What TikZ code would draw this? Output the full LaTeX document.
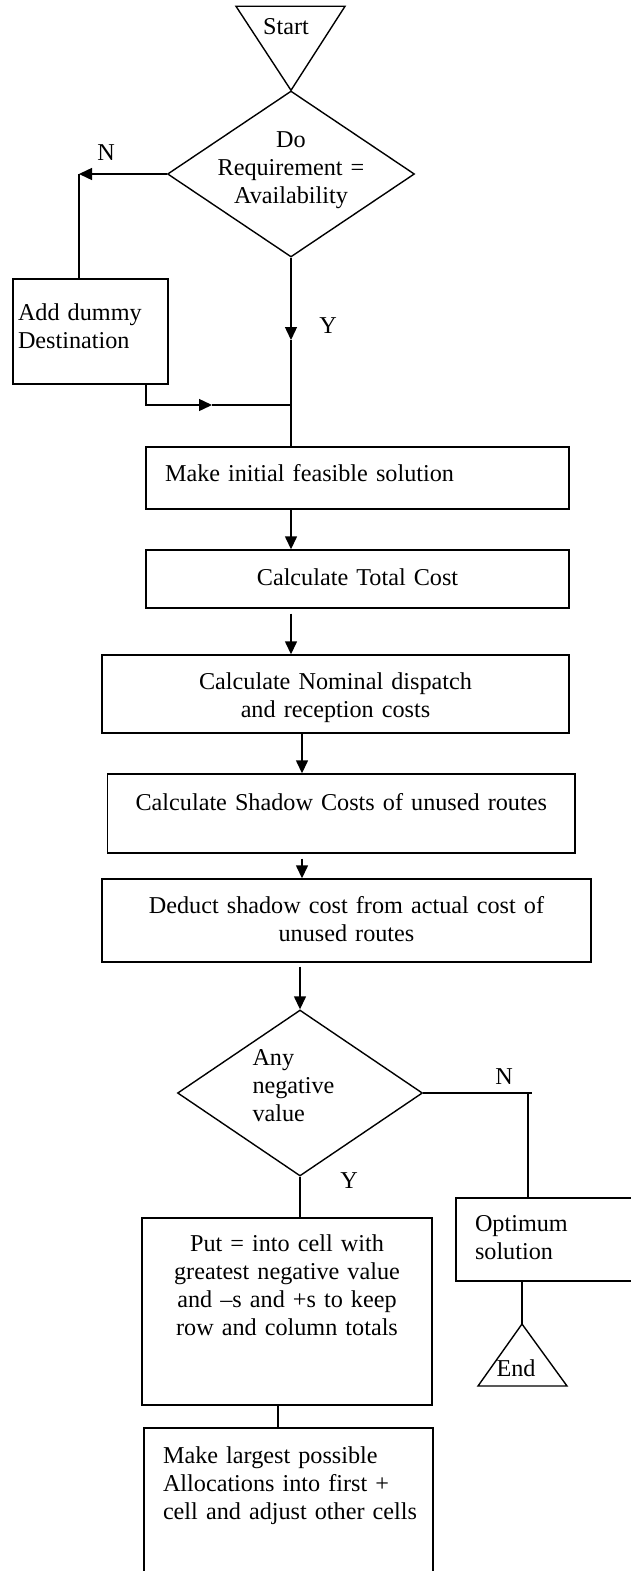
\documentclass[tikz,border=0pt]{standalone}
\usepackage{fontspec}
\setmainfont{Liberation Serif}
\usetikzlibrary{arrows.meta,shapes.geometric}

\begin{document}
\begin{tikzpicture}[x=1pt, y=-1pt, line width=1.4pt,
        font=\fontsize{24.2}{28}\selectfont,
        proc/.style={draw, rectangle, inner ysep=0pt},
        decide/.style={draw, diamond, inner sep=0pt, aspect=1.49, text height=0pt},
        arr/.style={-{Triangle[length=13pt, width=12pt]}},
        lbl/.style={anchor=base, inner sep=0pt}]
    \useasboundingbox (0, 0) rectangle (631, 1571);
    \clip (0, 0) rectangle (631, 1571);

    % Start and first test
    \node[decide, minimum width=247pt, minimum height=166pt, text width=150pt,
        align=center, text depth=54pt] (Decide) at (291, 174)
        {Do\\Requirement =\\Availability};
    \node[lbl] (Start) at (286, 35) {Start};
    \draw (Decide.north) -- ++(-55, -84) -- ++(109, 0) -- cycle;
    \node[proc, inner xsep=5pt, text width=145pt, align=left,
        text height=41pt, text depth=64pt] (AddDummy) at (90.5, 331.5)
        {Add dummy\\Destination};

    % Main column
    \node[proc, inner xsep=19pt, text width=385pt, align=left,
        text height=34pt, text depth=28pt] (MakeInit) at (357.5, 478)
        {Make initial feasible solution};
    \node[proc, inner xsep=5pt, text width=413pt, align=center,
        text height=35pt, text depth=23pt] (TotalCost) at (357.5, 579)
        {Calculate Total Cost};
    \node[proc, inner xsep=5pt, text width=457pt, align=center,
        text height=34pt, text depth=44pt] (Nominal) at (335.5, 694)
        {Calculate Nominal dispatch\\and reception costs};
    \node[proc, inner xsep=5pt, text width=457.5pt, align=center,
        text height=36pt, text depth=43pt] (Shadow) at (341.25, 813.5)
        {Calculate Shadow Costs of unused routes};
    \node[proc, inner xsep=5pt, text width=479pt, align=center,
        text height=34pt, text depth=49pt] (Deduct) at (346.5, 920.5)
        {Deduct shadow cost from actual cost of\\unused routes};
    \node[decide, minimum width=245pt, minimum height=166pt, text width=95pt,
        align=left, text depth=56pt] (NegVal) at (300, 1093)
        {Any\\negative\\value};
    \node[proc, inner xsep=10pt, text width=270pt, align=center,
        text height=33pt, text depth=154pt] (PutCell) at (287, 1311.5)
        {Put = into cell with\\greatest negative value\\and –s and +s to keep\\row and column totals};
    \node[proc, inner xsep=19pt, text width=251pt, align=left,
        text height=35pt, text depth=137pt] (Allocate) at (288.5, 1514)
        {Make largest possible\\Allocations into first +\\\mbox{cell and adjust other cells}};
    \node[proc, inner xsep=19pt, text width=156pt, align=left,
        text height=33pt, text depth=50pt] (Optimum) at (553, 1239.5)
        {Optimum\\solution};
    \node[lbl] (End) at (516, 1376) {End};

    % Branch labels
    \node[lbl] (NoA) at (106, 160) {N};
    \node[lbl] (YesA) at (328, 333) {Y};
    \node[lbl] (NoB) at (504, 1084) {N};
    \node[lbl] (YesB) at (349, 1188) {Y};

    \coordinate (AxisA) at (291, 0);
    \coordinate (AxisB) at (302, 0);
    \coordinate (AxisC) at (278, 0);
    \coordinate (AxisD) at (146, 0);
    \coordinate (NTurn) at (79, 174);
    \coordinate (YTip) at (291, 340);
    \coordinate (MergeTip) at (212, 405);
    \coordinate (Merge) at (291, 405);
    \coordinate (OptTurn) at (528, 1093);
    \coordinate (EndTop) at (522, 1324);

    % Connectors
    \draw[arr] (Decide.west) -- (NTurn);
    \draw (NTurn) -- (NTurn |- AddDummy.north);
    \draw[arr] (AddDummy.south -| AxisD) |- (MergeTip);
    \draw (MergeTip) -- (Merge);
    \draw[arr] (Decide.south) -- (YTip);
    \draw (YTip) -- (MakeInit.north -| AxisA);
    \draw[arr] (MakeInit.south -| AxisA) -- (TotalCost.north -| AxisA);
    \draw[arr, shorten <=5pt] (TotalCost.south -| AxisA) -- (Nominal.north -| AxisA);
    \draw[arr] (Nominal.south -| AxisB) -- (Shadow.north -| AxisB);
    \draw[arr, shorten <=5pt] (Shadow.south -| AxisB) -- (Deduct.north -| AxisB);
    \draw[arr, shorten <=4pt] (Deduct.south -| NegVal.north) -- (NegVal.north);
    \draw (NegVal.east) -- ([xshift=4pt]OptTurn);
    \draw (OptTurn) -- (Optimum.north -| OptTurn);
    \draw (Optimum.south -| EndTop) -- (EndTop);
    \draw (EndTop) -- ++(-44, 62) -- ++(89, 0) -- cycle;
    \draw (NegVal.south) -- (PutCell.north -| NegVal.south);
    \draw (PutCell.south -| AxisC) -- (Allocate.north -| AxisC);
\end{tikzpicture}
\end{document}
